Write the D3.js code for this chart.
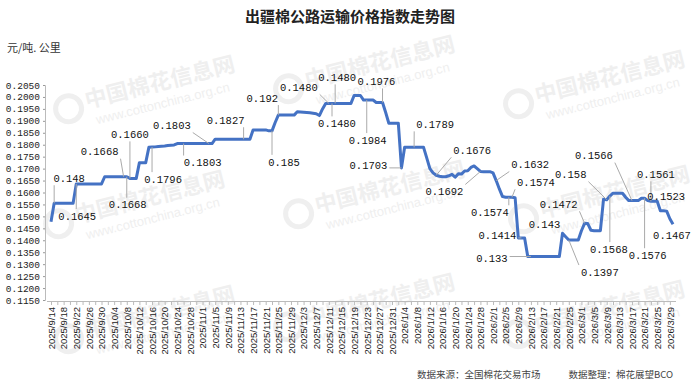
<!DOCTYPE html>
<html><head><meta charset="utf-8">
<script src="https://cdn.jsdelivr.net/npm/d3@7"></script>
<style>body{margin:0;background:#fff}svg{display:block}</style>
</head><body><svg id="c" width="700" height="385"></svg>
<script>
// ---- data ----
const startDate = new Date(2025, 8, 14);
const endDate = new Date(2026, 2, 31); // exclusive
const values = [
  0.1478,
  0.1555,0.1555,0.1555,0.1555,0.1555,0.1555,0.1555,
  0.1636,0.1636,0.1636,0.1636,0.1636,0.1636,0.1636,0.1636,0.1636,
  0.1666,0.1666,0.1666,0.1666,0.1666,0.1666,0.1666,0.1666,
  0.1659,0.1659,0.1659,
  0.1725,0.1725,0.1725,
  0.1789,0.1790,0.1791,0.1793,0.1794,0.1795,0.1797,0.1798,0.1799,
  0.1805,0.1805,0.1805,0.1805,0.1805,0.1805,0.1805,0.1805,0.1805,0.1805,0.1805,0.1805,
  0.1823,0.1823,0.1823,0.1823,0.1823,0.1823,0.1823,0.1823,0.1823,0.1823,0.1823,0.1823,
  0.1862,0.1862,0.1862,0.1862,0.1862,
  0.1858,0.1858,
  0.1893,
  0.1924,0.1924,0.1924,0.1924,0.1924,0.1924,
  0.1938,0.1937,0.1936,0.1935,0.1934,0.1932,
  0.1930,0.1922,0.1950,
  0.1973,0.1973,0.1973,0.1973,0.1973,0.1973,0.1973,0.1973,0.1973,
  0.2006,0.2006,0.2006,
  0.1987,0.1987,0.1987,0.1987,
  0.1977,0.1977,0.1977,
  0.1935,
  0.1890,0.1890,0.1890,0.1890,
  0.1703,
  0.1789,0.1789,0.1789,0.1789,0.1789,0.1789,0.1789,
  0.1745,0.1700,
  0.1682,0.1672,0.1668,0.1666,0.1666,0.1670,0.1676,0.1664,0.1678,0.1677,
  0.1690,0.1691,0.1705,0.1711,0.1700,0.1688,0.1687,0.1687,0.1687,0.1682,
  0.1650,0.1615,0.1583,
  0.1580,0.1580,0.1580,0.1578,
  0.1410,0.1410,0.1410,
  0.1332,0.1332,0.1332,0.1332,0.1332,0.1332,0.1332,0.1332,0.1332,0.1332,0.1332,
  0.1429,0.1415,
  0.1401,0.1401,0.1401,0.1401,
  0.1440,0.1471,0.1470,0.1442,
  0.1440,0.1440,0.1440,
  0.1572,0.1570,0.1585,0.1597,
  0.1597,0.1597,0.1597,
  0.1580,0.1566,
  0.1566,0.1566,0.1566,
  0.1576,0.1576,
  0.1566,
  0.1563,0.1563,0.1563,
  0.1524,0.1524,0.1522,
  0.1490,0.1467
];
const tickLabels = [
  "2025/9/14","2025/9/18","2025/9/22","2025/9/26","2025/9/30","2025/10/4","2025/10/8","2025/10/12",
  "2025/10/16","2025/10/20","2025/10/24","2025/10/28","2025/11/1","2025/11/5","2025/11/9","2025/11/13",
  "2025/11/17","2025/11/21","2025/11/25","2025/11/29","2025/12/3","2025/12/7","2025/12/11","2025/12/15",
  "2025/12/19","2025/12/23","2025/12/27","2025/12/31","2026/1/4","2026/1/8","2026/1/12","2026/1/16",
  "2026/1/20","2026/1/24","2026/1/28","2026/2/1","2026/2/5","2026/2/9","2026/2/13","2026/2/17",
  "2026/2/21","2026/2/25","2026/3/1","2026/3/5","2026/3/9","2026/3/13","2026/3/17","2026/3/21",
  "2026/3/25","2026/3/29"
];
const yTickValues = [0.115,0.12,0.125,0.13,0.135,0.14,0.145,0.15,0.155,0.16,0.165,0.17,0.175,0.18,0.185,0.19,0.195,0.2,0.205];
// annotation labels: index of data point, text
const annoIndex = [1,8,23,24,25,32,50,42,61,72,70,88,90,89,105,100,111,115,136,122,141,146,145,149,152,162,169,164,176,177,184,190,192,188,197];
const annoText = ["0.148","0.1645","0.1668","0.1668","0.1660","0.1796","0.1803","0.1803","0.1827","0.192","0.185",
  "0.1480","0.1480","0.1480","0.1976","0.1984","0.1703","0.1789","0.1692","0.1676","0.1632","0.1574","0.1574",
  "0.1414","0.133","0.143","0.1472","0.1397","0.158","0.1568","0.1566","0.1561","0.1523","0.1576","0.1467"];
const title = "出疆棉公路运输价格指数走势图";
const unit = "元/吨. 公里";
const sourceA = "数据来源：全国棉花交易市场";
const sourceB = "数据整理：棉花展望BCO";

// ---- layout (not data) ----
const annoOffset = [[15,-25],[1,32],[-24,-25],[1,28],[0,-44],[11,32],[-37,-18],[19,19],[-18,-19],[-16,-17],[12,31],
  [-30,-16],[2,-26],[5,20],[-6,-21],[1,40],[-33,-3],[21,-23],[-36,20],[36,-25],[34,-16],[24,-15],[-19,15],
  [-24,-3],[-39,2],[-18,-9],[-26,-19],[31,32],[-36,-25],[-1,53],[-38,-45],[5,-27],[9,-5],[3,57],[-1,11]];
const annoLeader = [1,1,1,1,1,1,1,1,1,1,1,1,1,1,1,1,1,1,1,1,1,1,1,1,1,0,1,1,1,1,1,1,0,1,0];

const svg = d3.select("#c");
const dates = d3.timeDay.range(startDate, endDate);
const data = dates.map((d, i) => ({date: d, value: values[i], i}));

const x = d3.scalePoint().domain(d3.range(data.length)).range([51, 673]);
const y = d3.scaleLinear().domain([0.115, 0.205]).range([300, 85]);

// watermarks
const wm = svg.append("g").attr("fill", "#efefef");
[[120,100],[110,215],[120,330],[340,80],[350,205],[340,318],[570,95],[575,210],[570,325]].forEach(([cx, cy]) => {
  const g = wm.append("g").attr("transform", `translate(${cx},${cy}) rotate(-14)`);
  g.append("circle").attr("cx", -52).attr("cy", -4).attr("r", 13).attr("fill", "none").attr("stroke", "#efefef").attr("stroke-width", 5);
  g.append("text").attr("x", -34).attr("y", 0).attr("font-family", "Noto Sans CJK SC").attr("font-weight", "bold").attr("font-size", 22).text("中国棉花信息网");
  g.append("text").attr("x", -28).attr("y", 18).attr("font-family", "Liberation Sans").attr("font-size", 13).text("www.cottonchina.org.cn");
});

// title
svg.append("text").attr("x", 350).attr("y", 22).attr("text-anchor", "middle")
  .attr("font-family", "Noto Sans CJK SC").attr("font-weight", "bold").attr("font-size", 15).attr("fill", "#222").text(title);
svg.append("text").attr("x", 7).attr("y", 52)
  .attr("font-family", "Noto Sans CJK SC").attr("font-size", 11).attr("fill", "#333").text(unit);

// y axis
const yAxis = svg.append("g").attr("transform", "translate(45,0)")
  .call(d3.axisLeft(y).tickValues(yTickValues).tickFormat(d3.format(".4f")).tickSize(2).tickPadding(3));
yAxis.select(".domain").attr("stroke", "#bbb");
yAxis.selectAll(".tick line").attr("stroke", "#999");
yAxis.selectAll("text").attr("font-family", "Liberation Mono").attr("font-size", 9.5).attr("fill", "#222");

// x axis
const xAxis = svg.append("g").attr("transform", "translate(0,301)")
  .call(d3.axisBottom(x).tickValues(d3.range(0, data.length, 2)).tickSize(4).tickFormat(i => i % 4 === 0 ? tickLabels[i / 4] : ""));
xAxis.select(".domain").attr("stroke", "#bbb").attr("d", "M47,0.5H676");
xAxis.selectAll(".tick line").attr("stroke", "#bbb");
xAxis.selectAll("text")
  .attr("font-family", "Liberation Sans").attr("font-size", 9.5).attr("fill", "#222")
  .attr("text-anchor", "end").attr("transform", "rotate(-90)")
  .attr("x", -6).attr("y", 0).attr("dy", "0.35em");

// line
svg.append("path").datum(data)
  .attr("fill", "none").attr("stroke", "#4472C4").attr("stroke-width", 3).attr("stroke-linejoin", "round")
  .attr("d", d3.line().x(d => x(d.i)).y(d => y(d.value)));

// annotations
const ag = svg.append("g");
annoIndex.forEach((idx, k) => {
  const px = x(idx), py = y(values[idx]);
  const tx = px + annoOffset[k][0], ty = py + annoOffset[k][1];
  const w = annoText[k].length * 6.3 / 2 + 2, h = 7;
  if (annoLeader[k]) {
    const ex = Math.max(tx - w, Math.min(px, tx + w));
    const ey = Math.max(ty - h, Math.min(py, ty + h));
    ag.append("line").attr("x1", ex).attr("y1", ey).attr("x2", px).attr("y2", py)
      .attr("stroke", "#aaa").attr("stroke-width", 1);
  }
  ag.append("text").attr("x", tx).attr("y", ty).attr("dy", "0.35em").attr("text-anchor", "middle")
    .attr("font-family", "Liberation Mono").attr("font-size", 10.5).attr("fill", "#111").text(annoText[k]);
});

// footer
svg.append("text").attr("x", 417).attr("y", 378)
  .attr("font-family", "Noto Sans CJK SC").attr("font-size", 9.5).attr("fill", "#444").text(sourceA);
svg.append("text").attr("x", 673).attr("y", 378).attr("text-anchor", "end")
  .attr("font-family", "Noto Sans CJK SC").attr("font-size", 9.5).attr("fill", "#444").text(sourceB);
</script></body></html>
